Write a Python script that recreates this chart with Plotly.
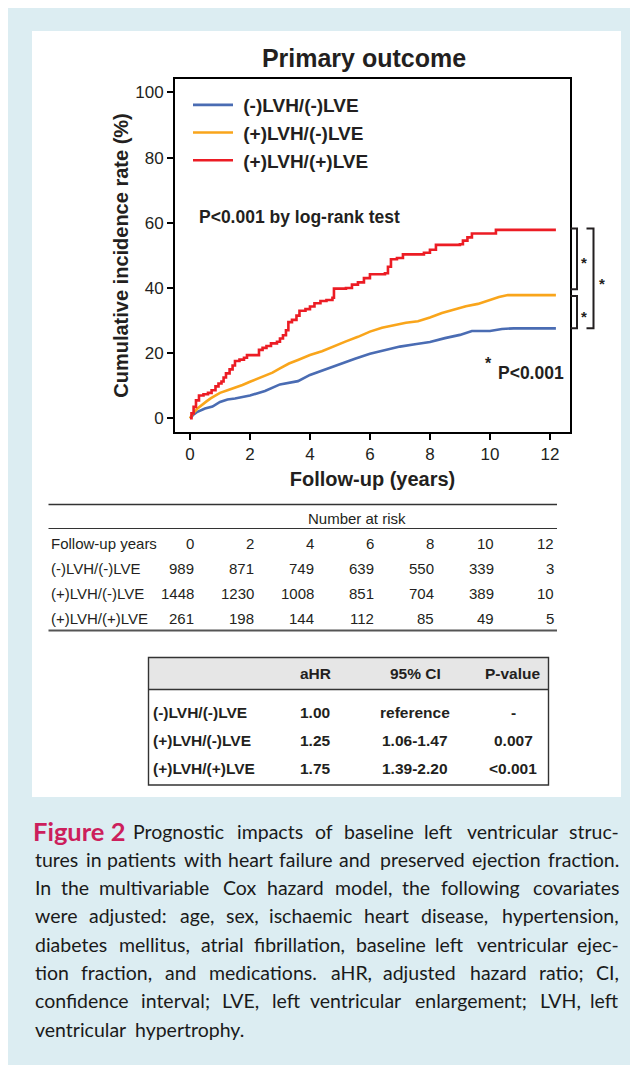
import plotly.graph_objects as go

# The page body has an 8px margin, so the figure is drawn from (8, 8) of the window.
OFF = 8
W, H = 638 - OFF, 1065 - OFF
def px(x): return (x - OFF) / W
def py(y): return 1 - (y - OFF) / H

# ---------------- data ----------------
groups = ["(-)LVH/(-)LVE", "(+)LVH/(-)LVE", "(+)LVH/(+)LVE"]
colors = ["#4a6cb3", "#f9a51b", "#ec1c24"]

blue_t = [0, 0.1, 0.25, 0.5, 0.75, 1.0, 1.25, 1.5, 2.0, 2.5, 3.0, 3.3, 3.6, 4.0, 4.5, 5.0,
          5.5, 6.0, 6.5, 7.0, 7.5, 8.0, 8.5, 9.0, 9.4, 10.0, 10.4, 10.8, 12.2]
blue_v = [0, 1.0, 2.0, 3.0, 3.6, 5.0, 5.8, 6.1, 7.0, 8.4, 10.4, 11.0, 11.4, 13.3, 15.0, 16.7,
          18.3, 19.8, 21.0, 22.0, 22.7, 23.4, 24.6, 25.6, 26.8, 26.8, 27.4, 27.6, 27.6]

orange_t = [0, 0.1, 0.25, 0.4, 0.55, 0.7, 0.85, 1.0, 1.25, 1.5, 1.75, 2.0, 2.25, 2.5, 2.75,
            3.0, 3.3, 3.6, 4.0, 4.4, 4.8, 5.2, 5.6, 6.0, 6.4, 6.8, 7.2, 7.6, 8.0, 8.4, 8.8,
            9.2, 9.6, 10.0, 10.3, 10.6, 12.2]
orange_v = [0, 1.5, 3.0, 4.2, 5.2, 6.2, 7.0, 7.8, 8.6, 9.3, 10.2, 11.2, 12.2, 13.2, 14.0,
            15.3, 16.8, 17.9, 19.4, 20.6, 22.2, 23.6, 25.0, 26.6, 27.8, 28.6, 29.3, 29.8, 30.9,
            32.3, 33.4, 34.4, 35.1, 36.3, 37.2, 37.8, 37.8]

red_t = [0, 0.05, 0.12, 0.2, 0.3, 0.45, 0.6, 0.72, 0.85, 0.95, 1.05, 1.12, 1.2, 1.32, 1.42,
         1.5, 1.65, 1.8, 1.9, 2.3, 2.42, 2.55, 2.7, 2.9, 3.0, 3.1, 3.2, 3.28, 3.4, 3.55, 3.65,
         3.85, 4.0, 4.15, 4.35, 4.55, 4.75, 4.8, 5.2, 5.4, 5.6, 5.8, 6.0, 6.5, 6.6, 6.7, 6.9,
         7.1, 7.8, 8.0, 8.2, 9.0, 9.1, 9.25, 9.4, 10.2, 12.2]
red_v = [0, 1.5, 3.5, 5.5, 7.0, 7.4, 7.8, 8.6, 9.8, 10.7, 11.3, 12.5, 13.8, 15.0, 16.2,
         17.6, 18.0, 18.6, 19.4, 21.0, 21.6, 22.2, 23.0, 23.5, 24.5, 25.5, 27.0, 29.5, 30.2,
         31.5, 33.0, 33.5, 34.3, 35.3, 36.0, 36.3, 37.0, 39.8, 40.0, 41.0, 41.7, 43.0, 44.2,
         44.5, 46.5, 48.8, 49.2, 50.3, 50.8, 51.7, 53.2, 53.4, 54.5, 55.5, 56.7, 57.8, 57.8]

x_ticks = [0, 2, 4, 6, 8, 10, 12]
y_ticks = [0, 20, 40, 60, 80, 100]

risk_years = [0, 2, 4, 6, 8, 10, 12]
risk_neg_neg = [989, 871, 749, 639, 550, 339, 3]
risk_pos_neg = [1448, 1230, 1008, 851, 704, 389, 10]
risk_pos_pos = [261, 198, 144, 112, 85, 49, 5]

ahr_header = ["aHR", "95% CI", "P-value"]
ahr_hr = ["1.00", "1.25", "1.75"]
ahr_ci = ["reference", "1.06-1.47", "1.39-2.20"]
ahr_p = ["-", "0.007", "&lt;0.001"]

caption_label = "Figure 2"
caption_lines = [
    "Prognostic impacts of baseline left ventricular struc-",
    "tures in patients with heart failure and preserved ejection fraction.",
    "In the multivariable Cox hazard model, the following covariates",
    "were adjusted: age, sex, ischaemic heart disease, hypertension,",
    "diabetes mellitus, atrial fibrillation, baseline left ventricular ejec-",
    "tion fraction, and medications. aHR, adjusted hazard ratio; CI,",
    "confidence interval; LVE, left ventricular enlargement; LVH, left",
    "ventricular hypertrophy.",
]

# ---------------- figure ----------------
SANS = "Liberation Sans"
INK = "#231f20"
fig = go.Figure()

series = [(blue_t, blue_v, "linear"), (orange_t, orange_v, "linear"), (red_t, red_v, "hv")]
for (t, v, shape), name, col in zip(series, groups, colors):
    fig.add_trace(go.Scatter(x=t, y=v, mode="lines", name="\u00a0" + name,
                             line=dict(color=col, width=2.6, shape=shape)))

shapes = []
annots = []

# page backgrounds
shapes.append(dict(type="rect", xref="paper", yref="paper", x0=px(8), x1=px(645), y0=py(7), y1=py(1075),
                   fillcolor="#dcedf2", line=dict(width=0), layer="below"))
shapes.append(dict(type="rect", xref="paper", yref="paper", x0=px(32), x1=px(621), y0=py(31), y1=py(797),
                   fillcolor="white", line=dict(width=0), layer="below"))

# brackets (referenced to the curves' final values)
red_end, orange_end, blue_end = red_v[-1], orange_v[-1], blue_v[-1]
def bracket(x_in, x_out, y_top, y_bot):
    return dict(type="path", xref="paper", yref="y",
                path=f"M{px(x_in)},{y_top} L{px(x_out)},{y_top} L{px(x_out)},{y_bot} L{px(x_in)},{y_bot}",
                line=dict(color=INK, width=2))
shapes.append(bracket(570.5, 577, red_end + 0.4, orange_end + 1.8))
shapes.append(bracket(570.5, 577, orange_end - 0.3, blue_end))
shapes.append(bracket(586.5, 593.5, red_end + 0.4, blue_end))
for ymid, xx in [((red_end + orange_end + 2.2) / 2, 583.5), ((orange_end + blue_end - 0.3) / 2, 583.5),
                 ((red_end + blue_end) / 2, 601.5)]:
    annots.append(dict(text="*", x=px(xx), xref="paper", y=ymid - 1.2, yref="y", showarrow=False,
                       font=dict(family=SANS, size=15, color=INK, weight="bold"),
                       xanchor="center", yanchor="middle"))

# in-plot texts
annots.append(dict(text="P&lt;0.001 by log-rank test", x=px(197), y=py(217), xref="paper", yref="paper",
                   showarrow=False, xanchor="left", yanchor="middle",
                   font=dict(family=SANS, size=17.5, color=INK, weight="bold")))
annots.append(dict(text="*", x=px(489), y=py(363), xref="paper", yref="paper", showarrow=False,
                   xanchor="center", yanchor="middle", font=dict(family=SANS, size=16, color=INK, weight="bold")))
annots.append(dict(text="P&lt;0.001", x=px(496), y=py(373.5), xref="paper", yref="paper", showarrow=False,
                   xanchor="left", yanchor="middle", font=dict(family=SANS, size=17.5, color=INK, weight="bold")))

# ---------------- number at risk table ----------------
TF = dict(family=SANS, size=15, color=INK)
tl, tr = 48.5, 557
shapes.append(dict(type="line", xref="paper", yref="paper", x0=px(tl), x1=px(tr), y0=py(504.5), y1=py(504.5),
                   line=dict(color="#333333", width=1.6)))
shapes.append(dict(type="line", xref="paper", yref="paper", x0=px(tl), x1=px(tr), y0=py(528.5), y1=py(528.5),
                   line=dict(color="#333333", width=1.2)))
shapes.append(dict(type="line", xref="paper", yref="paper", x0=px(tl), x1=px(tr), y0=py(630.5), y1=py(630.5),
                   line=dict(color="#555555", width=2.2)))
annots.append(dict(text="Number at risk", x=px(357), y=py(518), xref="paper", yref="paper", showarrow=False,
                   xanchor="center", yanchor="middle", font=TF))
row_labels = ["Follow-up years"] + groups
row_vals = [risk_years, risk_neg_neg, risk_pos_neg, risk_pos_pos]
for r, (lab, vals) in enumerate(zip(row_labels, row_vals)):
    yy = 543 + 25 * r
    annots.append(dict(text=lab, x=px(49), y=py(yy), xref="paper", yref="paper", showarrow=False,
                       xanchor="left", yanchor="middle", font=TF))
    for c, v in enumerate(vals):
        annots.append(dict(text=str(v), x=px(195.5 + 60.1 * c), y=py(yy), xref="paper", yref="paper",
                           showarrow=False, xanchor="right", yanchor="middle", font=TF))

# ---------------- aHR table ----------------
BF = dict(family=SANS, size=15.5, color=INK, weight="bold")
L, R, T, HB, B = 148.5, 548.5, 657.5, 689.5, 785
shapes.append(dict(type="rect", xref="paper", yref="paper", x0=px(L), x1=px(R), y0=py(HB), y1=py(T),
                   fillcolor="#e6e6e6", line=dict(width=0), layer="below"))
shapes.append(dict(type="rect", xref="paper", yref="paper", x0=px(L), x1=px(R), y0=py(B), y1=py(T),
                   line=dict(color="#333333", width=1.4)))
shapes.append(dict(type="line", xref="paper", yref="paper", x0=px(L), x1=px(R), y0=py(HB), y1=py(HB),
                   line=dict(color="#333333", width=1.4)))
col_x = [315, 415, 513]
for cx, h in zip(col_x, ahr_header):
    annots.append(dict(text=h, x=px(cx), y=py(673.5), xref="paper", yref="paper", showarrow=False,
                       xanchor="center", yanchor="middle", font=BF))
for r in range(3):
    yy = 712.5 + 27.8 * r
    annots.append(dict(text=groups[r], x=px(151), y=py(yy), xref="paper", yref="paper", showarrow=False,
                       xanchor="left", yanchor="middle", font=BF))
    for cx, val in zip(col_x, [ahr_hr[r], ahr_ci[r], ahr_p[r]]):
        annots.append(dict(text=val, x=px(cx), y=py(yy), xref="paper", yref="paper", showarrow=False,
                           xanchor="center", yanchor="middle", font=BF))

# ---------------- caption (justified) ----------------
# approximate Lato Regular advance widths (em)
LATO = {
    ' ': .193, 'a': .501, 'b': .555, 'c': .458, 'd': .555, 'e': .52, 'f': .326, 'g': .5, 'h': .552,
    'i': .236, 'j': .236, 'k': .515, 'l': .236, 'm': .824, 'n': .552, 'o': .555, 'p': .55, 'q': .555,
    'r': .372, 's': .423, 't': .351, 'u': .552, 'v': .5, 'w': .755, 'x': .486, 'y': .5, 'z': .46,
    'A': .685, 'C': .682, 'E': .57, 'F': .54, 'H': .745, 'I': .274, 'L': .51, 'P': .59, 'R': .612, 'V': .695,
    ',': .22, '.': .22, ';': .24, ':': .24, '-': .34, '2': .58,
}
def tw(s, size, bold=False):
    return sum(LATO.get(ch, .52) for ch in s) * size * (1.013 if bold else 1.05)

CAP_SIZE = 19.5
LBL_SIZE = 25.5
CAP_L, CAP_R = 33, 621
CAP_Y0, CAP_DY = 831, 28.3
CF = dict(family="Lato", size=CAP_SIZE, color="#1a1a1a")
LBL_FONT = dict(family="Lato", size=LBL_SIZE, color="#cc1f5c", weight="bold")

def add_word(text, xpos, anchor, yy, font):
    annots.append(dict(text=text, x=px(xpos), y=py(yy), xref="paper", yref="paper", showarrow=False,
                       xanchor=anchor, yanchor="middle", font=font))

for i, line in enumerate(caption_lines):
    units = [(w, False) for w in line.split(" ")]
    if i == 0:
        units = [(caption_label, True)] + units
    widths = [tw(u, LBL_SIZE if b else CAP_SIZE, b) for u, b in units]
    yy = CAP_Y0 + CAP_DY * i
    n = len(units)
    if i == len(caption_lines) - 1:
        x = CAP_L
        for (u, b), w in zip(units, widths):
            add_word(u, x, "left", yy, LBL_FONT if b else CF)
            x += w + LATO[' '] * CAP_SIZE * 1.4
        continue
    gap = (CAP_R - CAP_L - sum(widths)) / (n - 1)
    half = (n + 1) // 2
    x = CAP_L - (2 if i == 0 else 0)
    for k in range(half):
        (u, b), w = units[k], widths[k]
        add_word(u, x, "left", yy, LBL_FONT if b else CF)
        x += w + gap
    xr = CAP_R
    for k in range(n - 1, half - 1, -1):
        (u, b), w = units[k], widths[k]
        add_word(u, xr, "right", yy, LBL_FONT if b else CF)
        xr -= w + gap

fig.update_layout(
    width=W, height=H, margin=dict(l=0, r=0, t=0, b=0),
    paper_bgcolor="white", plot_bgcolor="rgba(0,0,0,0)",
    title=dict(text="Primary outcome", x=px(364), y=py(58), xanchor="center", yanchor="middle",
               font=dict(family=SANS, size=25, color=INK, weight="bold")),
    xaxis=dict(domain=[px(175), px(570)], range=[-0.5, 12.67], tickvals=x_ticks,
               ticks="outside", ticklen=6, tickwidth=1.5, tickcolor="black",
               showline=True, linewidth=2, linecolor="black", mirror=True,
               showgrid=False, zeroline=False,
               tickfont=dict(family=SANS, size=17, color=INK),
               title=dict(text="Follow-up (years)", standoff=9,
                          font=dict(family=SANS, size=20, color=INK, weight="bold"))),
    yaxis=dict(domain=[py(432), py(79)], range=[-4.2, 104.1], tickvals=y_ticks,
               ticks="outside", ticklen=6, tickwidth=1.5, tickcolor="black",
               showline=True, linewidth=2, linecolor="black", mirror=True,
               showgrid=False, zeroline=False,
               tickfont=dict(family=SANS, size=17, color=INK),
               title=dict(text="Cumulative incidence rate (%)" + "\u00a0" * 3, standoff=1,
                          font=dict(family=SANS, size=20, color=INK, weight="bold"))),
    legend=dict(x=px(188), y=py(86), xanchor="left", yanchor="top", bgcolor="rgba(0,0,0,0)",
                font=dict(family=SANS, size=19, color=INK, weight="bold"), itemwidth=40),
    shapes=shapes, annotations=annots,
)

fig.write_html("out.html")
